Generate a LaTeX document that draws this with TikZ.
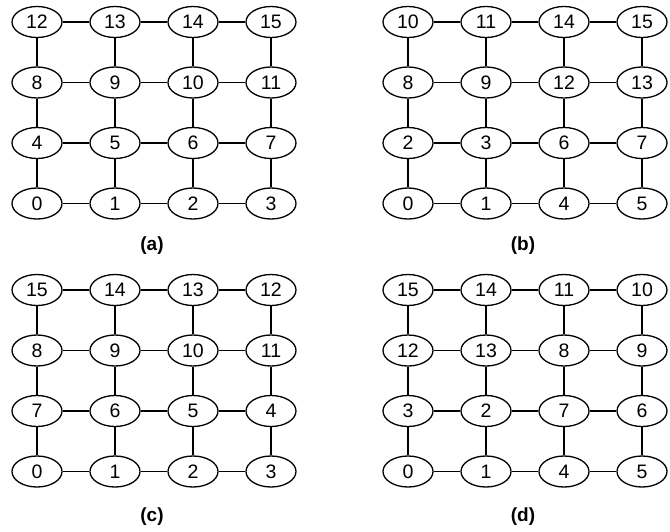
\documentclass[tikz,border=0pt]{standalone}
\usepackage{fontspec}
\setmainfont{Liberation Sans}
\usetikzlibrary{shapes.geometric}

\begin{document}
\begin{tikzpicture}[
    x=1pt, y=-1pt,
    link/.style={line width=1.7pt},
    cell/.style={draw, ellipse, line width=1.3pt, inner sep=0pt,
                 minimum width=50pt, minimum height=31pt,
                 font=\fontsize{19.5}{22}\selectfont},
    caption/.style={font=\fontsize{19}{22}\selectfont\bfseries}
  ]
  \useasboundingbox (0,0) rectangle (670,531);

  % four 4x4 meshes, labels listed row by row from the top
  \foreach \pn/\ox/\oy/\cy/\labs in {
      a/37/22/246/{12,13,14,15,8,9,10,11,4,5,6,7,0,1,2,3},
      b/408/22/246/{10,11,14,15,8,9,12,13,2,3,6,7,0,1,4,5},
      c/37/290/517/{15,14,13,12,8,9,10,11,7,6,5,4,0,1,2,3},
      d/408/290/517/{15,14,11,10,12,13,8,9,3,2,7,6,0,1,4,5}}{
    \foreach \lab [count=\i from 0] in \labs {
      \pgfmathtruncatemacro\col{mod(\i,4)}
      \pgfmathtruncatemacro\row{div(\i,4)}
      \node[cell] (\pn\i) at (\ox+78*\col, \oy+60.5*\row) {\lab};
    }
    \foreach \i in {0,...,15} {
      \pgfmathtruncatemacro\col{mod(\i,4)}
      \pgfmathtruncatemacro\row{div(\i,4)}
      \pgfmathtruncatemacro\rt{\i+1}
      \pgfmathtruncatemacro\dn{\i+4}
      \ifnum\col<3 \draw[link] (\pn\i) -- (\pn\rt); \fi
      \ifnum\row<3 \draw[link] (\pn\i) -- (\pn\dn); \fi
    }
    \node[caption] (cap\pn) at (\ox+115,\cy) {(\pn)};
  }
\end{tikzpicture}
\end{document}
